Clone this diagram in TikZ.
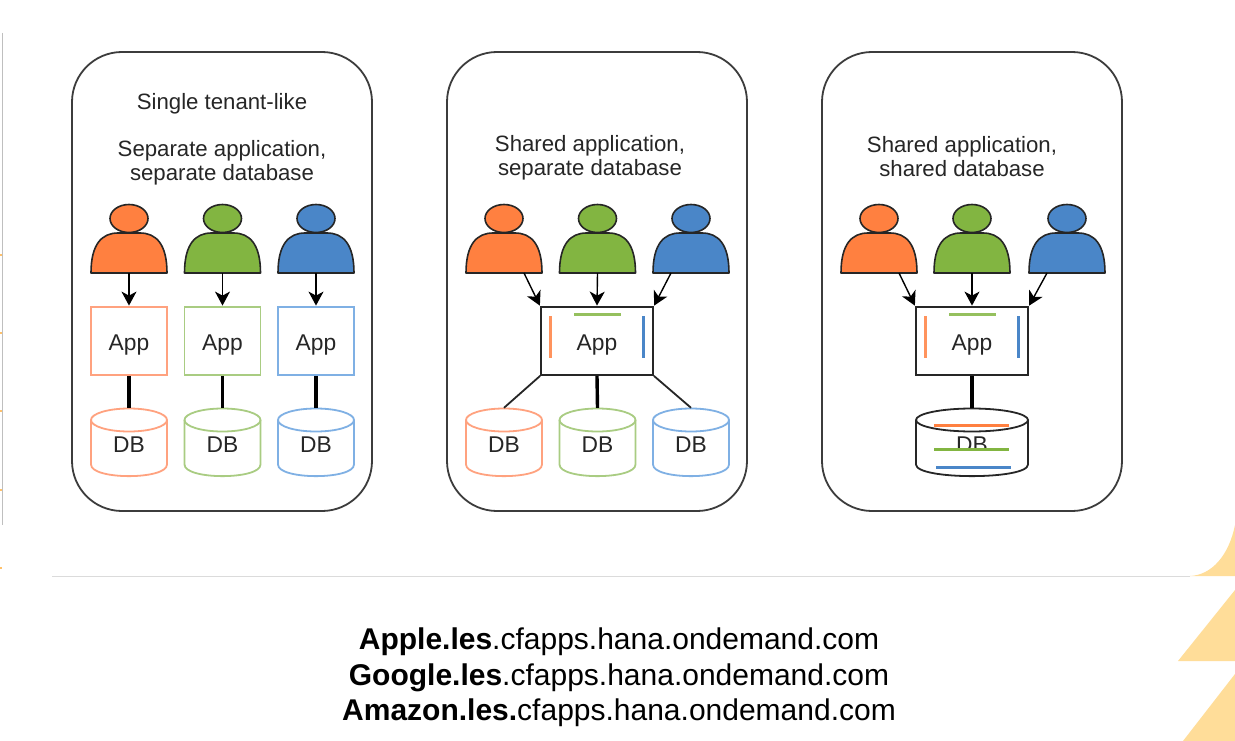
\documentclass[tikz,border=0pt]{standalone}
\usepackage{fontspec}
\setmainfont{Liberation Sans}
\usetikzlibrary{arrows.meta}
\definecolor{orF}{HTML}{FF8040}
\definecolor{grF}{HTML}{82B541}
\definecolor{blF}{HTML}{4A86C8}
\definecolor{orL}{HTML}{FFA27F}
\definecolor{grL}{HTML}{A9CC82}
\definecolor{blL}{HTML}{7FB0E4}
\definecolor{ink}{HTML}{262626}
\definecolor{gold}{HTML}{FFDD99}
\tikzset{
  x=1pt,y=-1pt,
  panel/.style={draw=ink!90,line width=1.8pt,rounded corners=50pt,minimum width=300pt,minimum height=459pt,inner sep=0pt},
  caption/.style={text=ink,font=\fontsize{22.2}{24}\selectfont,align=center,inner sep=0pt},
  url/.style={text=black,font=\fontsize{30}{36}\selectfont,inner sep=0pt},
  appbox/.style={line width=1.8pt,minimum height=68pt,inner sep=0pt,text=ink,font=\fontsize{22.8}{24}\selectfont,text height=18.6pt,text depth=0pt},
  dbtext/.style={minimum height=68pt,inner sep=0pt,text=ink,font=\fontsize{22.8}{24}\selectfont,text height=20.4pt,text depth=0pt},
  ghost/.style={minimum width=76pt,minimum height=42pt,inner sep=0pt},
  user/.style={draw=black!85,line width=1.6pt,line join=round},
  push/.style={-{Stealth[length=14pt,width=15pt,inset=4pt]},line width=1.4pt,black,shorten >=0.5pt},
  bond/.style={line width=3.4pt,black},
  slant/.style={line width=1.8pt,black!85},
  bar/.style={line width=3pt},
}
% \personfig{name}{x}{fill}
\newcommand{\personfig}[3]{%
  \fill[#3,user] (#2-38,273) .. controls (#2-38,244) and (#2-27,233) .. (#2-11,233)
     -- (#2+11,233) .. controls (#2+27,233) and (#2+38,244) .. (#2+38,273) -- cycle;
  \draw[fill=#3,user] (#2,218.5) ellipse [x radius=19,y radius=14];
  \node[ghost] (#1) at (#2,252) {};
  \coordinate (#1l) at (#2-20,273);
  \coordinate (#1r) at (#2+20,273);
}
% \dbfig{name}{x}{half width}{colour}{line width}
\newcommand{\dbfig}[5]{%
  \draw[#4,line width=#5] (#2-#3,420) -- (#2-#3,464.5)
     .. controls (#2-#3,480) and (#2+#3,480) .. (#2+#3,464.5) -- (#2+#3,420);
  \draw[#4,line width=#5] (#2,420) ellipse [x radius=#3,y radius=11.5];
  \node[dbtext,minimum width=2*#3] (#1) at (#2,442) {DB};
}
\begin{document}
\begin{tikzpicture}
\useasboundingbox (0,0) rectangle (1235,741);
\fill[white] (0,0) rectangle (1235,741);
% slide decoration
\fill[gold] (1235,525) .. controls (1229,555) and (1212,575) .. (1190,576) -- (1235,576) -- cycle;
\fill[gold] (1235,590) -- (1178,661) -- (1235,661) -- cycle;
\fill[gold] (1235,674) -- (1183,741) -- (1235,741) -- cycle;
\draw[black!14,line width=1pt] (52,576.5) -- (1190,576.5);
\draw[black!25,line width=1.2pt] (2.5,33) -- (2.5,525);
\foreach \yy in {255,333,411,490,568} \draw[gold!70!orange,line width=1.5pt] (0,\yy) -- (2,\yy);
% panels
\node[panel] (P1) at (222,281.5) {};
\node[panel] (P2) at (597,281.5) {};
\node[panel] (P3) at (972,281.5) {};
% captions
\node[caption] (c1a) at (222,104) {Single tenant-like};
\node[caption] (c1b) at (222,163) {Separate application,\\separate database};
\node[caption] (c2) at (590,158) {Shared application,\\separate database};
\node[caption] (c3) at (962,157) {Shared application,\\shared database};
% panel 1
\personfig{u1}{129}{orF}
\personfig{u2}{222.5}{grF}
\personfig{u3}{316}{blF}
\node[appbox,draw=orL,minimum width=76pt] (a1) at (129,341) {App};
\node[appbox,draw=grL,minimum width=76pt] (a2) at (222.5,341) {App};
\node[appbox,draw=blL,minimum width=76pt] (a3) at (316,341) {App};
\dbfig{d1}{129}{38}{orL}{1.8pt}
\dbfig{d2}{222.5}{38}{grL}{1.8pt}
\dbfig{d3}{316}{38}{blL}{1.8pt}
\draw[push] (u1.south) -- (a1.north);
\draw[push] (u2.south) -- (a2.north);
\draw[push] (u3.south) -- (a3.north);
\draw[bond] (a1.south) -- (d1.north);
\draw[bond] (a2.south) -- (d2.north);
\draw[bond] (a3.south) -- (d3.north);
% panel 2
\personfig{u4}{504}{orF}
\personfig{u5}{597.5}{grF}
\personfig{u6}{691}{blF}
\node[appbox,draw=ink,minimum width=112pt] (a4) at (597,341) {App};
\dbfig{d4}{504}{38}{orL}{1.8pt}
\dbfig{d5}{597.5}{38}{grL}{1.8pt}
\dbfig{d6}{691}{38}{blL}{1.8pt}
\draw[push] (u4r) -- (a4.north west);
\draw[push] (u5.south) -- (a4.north);
\draw[push] (u6l) -- (a4.north east);
\draw[slant] (a4.south west) -- (d4.north);
\draw[bond] (a4.south) -- (d5.north);
\draw[slant] (a4.south east) -- (d6.north);
\draw[orF!85,bar] (550,316) -- (550,358);
\draw[grF!85,bar] (574,314.5) -- (621,314.5);
\draw[blF,bar] (643,316) -- (643,358);
% panel 3
\personfig{u7}{879}{orF}
\personfig{u8}{972}{grF}
\personfig{u9}{1067}{blF}
\node[appbox,draw=ink,minimum width=112pt] (a5) at (972,341) {App};
\dbfig{d7}{972}{56}{ink}{1.8pt}
\fill[white] (930,449) rectangle (1014,460);
\draw[push] (u7r) -- (a5.north west);
\draw[push] (u8.south) -- (a5.north);
\draw[push] (u9l) -- (a5.north east);
\draw[bond] (a5.south) -- (d7.north);
\draw[orF!85,bar] (925,316) -- (925,358);
\draw[grF!85,bar] (949,314.5) -- (996,314.5);
\draw[blF,bar] (1018,316) -- (1018,358);
\draw[orF,bar] (934,425) -- (1009,425);
\draw[grF,bar] (934,449) -- (1009,449);
\draw[blF,bar] (936,467.5) -- (1011,467.5);
% addresses
\node[url] (l1) at (619,642) {\textbf{Apple.les}.cfapps.hana.ondemand.com};
\node[url] (l2) at (619,678) {\textbf{Google.les}.cfapps.hana.ondemand.com};
\node[url] (l3) at (619,713) {\textbf{Amazon.les.}cfapps.hana.ondemand.com};
\end{tikzpicture}
\end{document}
